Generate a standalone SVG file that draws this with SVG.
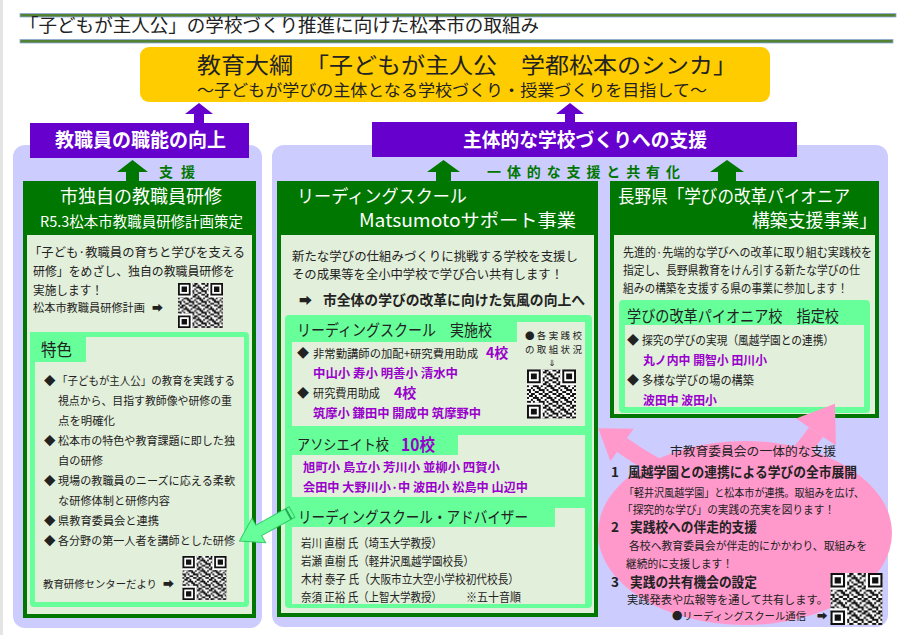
<svg xmlns="http://www.w3.org/2000/svg" xmlns:xlink="http://www.w3.org/1999/xlink" width="900" height="635" viewBox="0 0 900 635">
<style>
text { font-family: "Noto Sans CJK JP", "DejaVu Sans", sans-serif; fill: #222; }
.w { fill: #fff; }
.b { font-weight: bold; }
.p { fill: #9900cc; font-weight: bold; }
.g { fill: #007700; font-weight: bold; }
.dg { fill: #007700; }
.lg { fill: #66ff99; }
.lt { fill: #e2efda; }
.pu { fill: #6600cc; }
.lav { fill: #ccccff; }
.pk { fill: #ff99cc; }
</style>
<defs>
<pattern id="qrn" width="7" height="6" patternUnits="userSpaceOnUse">
<path fill="#111" d="M0 0h1v1h-1z M2 0h2v1h-2z M6 0h1v1h-1z M1 1h2v1h-2z M4 1h1v1h-1z M0 2h1v1h-1z M3 2h3v1h-3z M2 3h1v1h-1z M5 3h2v1h-2z M0 4h2v1h-2z M3 4h1v1h-1z M6 4h1v1h-1z M1 5h1v1h-1z M4 5h2v1h-2z"/>
</pattern>
<symbol id="qr" viewBox="0 0 25 25">
<rect width="25" height="25" fill="#fff"/>
<rect width="25" height="25" fill="url(#qrn)"/>
<rect x="0" y="0" width="8" height="8" fill="#fff"/>
<rect x="17" y="0" width="8" height="8" fill="#fff"/>
<rect x="0" y="17" width="8" height="8" fill="#fff"/>
<path fill="#111" fill-rule="evenodd" d="M0 0h7v7h-7z M1 1v5h5v-5z M2 2h3v3h-3z M18 0h7v7h-7z M19 1v5h5v-5z M20 2h3v3h-3z M0 18h7v7h-7z M1 19v5h5v-5z M2 20h3v3h-3z"/>
</symbol>
</defs>

<rect width="900" height="635" fill="#fff"/>
<rect x="0" y="0" width="3" height="635" fill="#e4e4e4"/>

<g id="title">
<rect x="20" y="13.5" width="876" height="3.5" fill="#548235" stroke="#8eaadb" stroke-width="0.8"/>
<text x="20" y="32" font-size="18" textLength="519" lengthAdjust="spacingAndGlyphs">「子どもが主人公」の学校づくり推進に向けた松本市の取組み</text>
<rect x="20" y="39.5" width="873" height="3.5" fill="#548235" stroke="#8eaadb" stroke-width="0.8"/>
</g>

<g id="panels">
<rect class="lav" x="13" y="145" width="249" height="483" rx="12"/>
<rect class="lav" x="272" y="145" width="616" height="482" rx="12"/>
</g>

<g id="goal">
<rect x="140" y="47" width="630" height="55" rx="9" fill="#ffcc00"/>
<text x="197" y="73" font-size="22" textLength="540" lengthAdjust="spacingAndGlyphs">教育大綱　「子どもが主人公　学都松本のシンカ」</text>
<text x="197" y="96" font-size="16" textLength="510" lengthAdjust="spacingAndGlyphs">～子どもが学びの主体となる学校づくり・授業づくりを目指して～</text>
</g>

<g id="aim-left">
<rect class="pu" x="30" y="123" width="219" height="35"/>
<text class="w b" x="55" y="147" font-size="19" textLength="171" lengthAdjust="spacingAndGlyphs">教職員の職能の向上</text>
</g>

<g id="aim-right">
<rect class="pu" x="372" y="122" width="425" height="35"/>
<text class="w b" x="463" y="147" font-size="19" textLength="244" lengthAdjust="spacingAndGlyphs">主体的な学校づくりへの支援</text>
</g>

<g id="box-left">
<rect class="dg" x="23" y="181" width="233" height="437"/>
<rect class="lt" x="27" y="235" width="225" height="379"/>
<text class="w" x="60" y="203" font-size="18" textLength="162" lengthAdjust="spacingAndGlyphs">市独自の教職員研修</text>
<text class="w" x="40" y="227" font-size="14.5" textLength="203" lengthAdjust="spacingAndGlyphs">R5.3松本市教職員研修計画策定</text>
<text x="29" y="257" font-size="12.5" textLength="216" lengthAdjust="spacingAndGlyphs">「子ども·教職員の育ちと学びを支える</text>
<text x="33" y="276" font-size="12.5" textLength="202" lengthAdjust="spacingAndGlyphs">研修」をめざし、独自の教職員研修を</text>
<text x="33" y="295" font-size="12.5" textLength="70" lengthAdjust="spacingAndGlyphs">実施します！</text>
<text x="33" y="312" font-size="11" textLength="112" lengthAdjust="spacingAndGlyphs">松本市教職員研修計画</text>
<text x="152" y="312" font-size="11">➡</text>
<use xlink:href="#qr" href="#qr" x="178" y="283" width="45" height="45"/>
<rect class="lg" x="30" y="332" width="219" height="275" rx="4"/>
<rect class="lt" x="35" y="337" width="209" height="265"/>
<rect class="lg" x="30" y="332" width="56" height="30"/>
<text x="41" y="356" font-size="16.5" textLength="31" lengthAdjust="spacingAndGlyphs">特色</text>
<g font-size="11.5">
<text x="44" y="384.5">◆</text>
<text x="57" y="384.5" textLength="178" lengthAdjust="spacingAndGlyphs">「子どもが主人公」の教育を実践する</text>
<text x="58" y="404.5" textLength="174" lengthAdjust="spacingAndGlyphs">視点から、目指す教師像や研修の重</text>
<text x="58" y="424.5" textLength="57" lengthAdjust="spacingAndGlyphs">点を明確化</text>
<text x="44" y="444.5">◆</text>
<text x="58" y="444.5" textLength="177" lengthAdjust="spacingAndGlyphs">松本市の特色や教育課題に即した独</text>
<text x="58" y="464.5" textLength="45" lengthAdjust="spacingAndGlyphs">自の研修</text>
<text x="44" y="484.5">◆</text>
<text x="58" y="484.5" textLength="177" lengthAdjust="spacingAndGlyphs">現場の教職員のニーズに応える柔軟</text>
<text x="58" y="504.5" textLength="112" lengthAdjust="spacingAndGlyphs">な研修体制と研修内容</text>
<text x="44" y="524.5">◆</text>
<text x="58" y="524.5" textLength="101" lengthAdjust="spacingAndGlyphs">県教育委員会と連携</text>
<text x="44" y="544.5">◆</text>
<text x="58" y="544.5" textLength="177" lengthAdjust="spacingAndGlyphs">各分野の第一人者を講師とした研修</text>
</g>
<text x="43" y="588" font-size="10.6" textLength="114" lengthAdjust="spacingAndGlyphs">教育研修センターだより</text>
<text x="163" y="588" font-size="11">➡</text>
<use xlink:href="#qr" href="#qr" x="182" y="556" width="45" height="44"/>
</g>

<g id="box-middle">
<rect class="dg" x="277" y="181" width="321" height="436"/>
<rect class="lt" x="281" y="235" width="313" height="378"/>
<text class="w" x="297" y="203" font-size="18" textLength="170" lengthAdjust="spacingAndGlyphs">リーディングスクール</text>
<text class="w" x="359" y="227" font-size="18" textLength="217" lengthAdjust="spacingAndGlyphs">Matsumotoサポート事業</text>
<text x="292" y="261" font-size="12.5" textLength="286" lengthAdjust="spacingAndGlyphs">新たな学びの仕組みづくりに挑戦する学校を支援し</text>
<text x="292" y="279" font-size="12.5" textLength="271" lengthAdjust="spacingAndGlyphs">その成果等を全小中学校で学び合い共有します！</text>
<text x="299" y="305" font-size="13">➡</text>
<text class="b" x="323" y="305" font-size="14" textLength="262" lengthAdjust="spacingAndGlyphs">市全体の学びの改革に向けた気風の向上へ</text>
<rect class="lg" x="285" y="315" width="307" height="293" rx="4"/>
<rect class="lt" x="292" y="342" width="293" height="84"/>
<rect class="lt" x="517" y="322" width="68" height="104"/>
<text x="297" y="336" font-size="16" textLength="195" lengthAdjust="spacingAndGlyphs">リーディングスクール　実施校</text>
<text x="525" y="338.5" font-size="9.5" textLength="57" lengthAdjust="spacing">●各実践校</text>
<text x="525" y="352.5" font-size="9.5" textLength="57" lengthAdjust="spacing">の取組状況</text>
<text x="552" y="366" font-size="8.5" text-anchor="middle">⇓</text>
<use xlink:href="#qr" href="#qr" x="527" y="369" width="49" height="50"/>
<text x="297" y="358" font-size="12">◆</text>
<text x="313" y="358" font-size="11.5" textLength="165" lengthAdjust="spacingAndGlyphs">非常勤講師の加配+研究費用助成</text>
<text class="p" x="486" y="358" font-size="14" font-weight="normal">4校</text>
<text class="p" x="313" y="378" font-size="12" textLength="145" lengthAdjust="spacingAndGlyphs">中山小 寿小 明善小 清水中</text>
<text x="297" y="398" font-size="12">◆</text>
<text x="313" y="398" font-size="12" textLength="67" lengthAdjust="spacingAndGlyphs">研究費用助成</text>
<text class="p" x="394" y="398" font-size="14">4校</text>
<text class="p" x="313" y="418" font-size="12" textLength="168" lengthAdjust="spacingAndGlyphs">筑摩小 鎌田中 開成中 筑摩野中</text>
<rect class="lt" x="292" y="435" width="293" height="62"/>
<rect class="lg" x="285" y="431" width="173" height="24"/>
<text x="297" y="450" font-size="14.5" textLength="92" lengthAdjust="spacingAndGlyphs">アソシエイト校</text>
<text class="p" x="401" y="451" font-size="17" textLength="34" lengthAdjust="spacingAndGlyphs">10校</text>
<text class="p" x="303" y="472" font-size="12" textLength="197" lengthAdjust="spacingAndGlyphs">旭町小 島立小 芳川小 並柳小 四賀小</text>
<text class="p" x="303" y="492" font-size="12" textLength="225" lengthAdjust="spacingAndGlyphs">会田中 大野川小·中 波田小 松島中 山辺中</text>
<rect class="lt" x="292" y="508" width="293" height="96"/>
<rect class="lg" x="285" y="501" width="270" height="26"/>
<text x="298" y="523" font-size="16" textLength="230" lengthAdjust="spacingAndGlyphs">リーディングスクール・アドバイザー</text>
<g font-size="12">
<text x="301" y="548" textLength="141" lengthAdjust="spacingAndGlyphs">岩川 直樹 氏（埼玉大学教授）</text>
<text x="301" y="566" textLength="173" lengthAdjust="spacingAndGlyphs">岩瀬 直樹 氏（軽井沢風越学園校長）</text>
<text x="301" y="584" textLength="218" lengthAdjust="spacingAndGlyphs">木村 泰子 氏（大阪市立大空小学校初代校長）</text>
<text x="301" y="602" textLength="141" lengthAdjust="spacingAndGlyphs">奈須 正裕 氏（上智大学教授）</text>
<text x="466" y="602" textLength="55" lengthAdjust="spacingAndGlyphs">※五十音順</text>
</g>
</g>

<g id="box-right">
<rect class="dg" x="610" y="181" width="269" height="237"/>
<rect class="lt" x="614" y="235" width="261" height="179"/>
<text class="w" x="618" y="203" font-size="18" textLength="232" lengthAdjust="spacingAndGlyphs">長野県「学びの改革パイオニア</text>
<text class="w" x="752" y="227" font-size="18" textLength="125" lengthAdjust="spacingAndGlyphs">構築支援事業」</text>
<g font-size="12">
<text x="623" y="257" textLength="249" lengthAdjust="spacingAndGlyphs">先進的·先端的な学びへの改革に取り組む実践校を</text>
<text x="623" y="275" textLength="237" lengthAdjust="spacingAndGlyphs">指定し、長野県教育をけん引する新たな学びの仕</text>
<text x="623" y="293" textLength="225" lengthAdjust="spacingAndGlyphs">組みの構築を支援する県の事業に参加します！</text>
</g>
<rect class="lg" x="619" y="300" width="251" height="113" rx="4"/>
<rect class="lt" x="625" y="325" width="239" height="82"/>
<text x="627" y="322" font-size="16" textLength="212" lengthAdjust="spacingAndGlyphs">学びの改革パイオニア校　指定校</text>
<g font-size="12">
<text x="627" y="345">◆</text>
<text x="642" y="345" textLength="192" lengthAdjust="spacingAndGlyphs">探究の学びの実現（風越学園との連携）</text>
<text class="p" x="643" y="365" textLength="124" lengthAdjust="spacingAndGlyphs">丸ノ内中 開智小 田川小</text>
<text x="627" y="385">◆</text>
<text x="642" y="385" textLength="112" lengthAdjust="spacingAndGlyphs">多様な学びの場の構築</text>
<text class="p" x="643" y="405" textLength="74" lengthAdjust="spacingAndGlyphs">波田中 波田小</text>
</g>
</g>

<g id="connectors">
<polygon class="pu" points="199,103 213,114 204,114 204,124 194,124 194,114 185,114"/>
<polygon class="pu" points="570,103 584,114 575,114 575,123 565,123 565,114 556,114"/>
<polygon class="dg" points="132.5,160 148,172 139,172 139,182 126,182 126,172 117,172"/>
<text class="g" x="159" y="177" font-size="14" textLength="36" lengthAdjust="spacing">支援</text>
<polygon class="dg" points="443.5,160 460,172 451,172 451,182 436,182 436,172 427,172"/>
<text class="g" x="487" y="177" font-size="14" textLength="193" lengthAdjust="spacing">一体的な支援と共有化</text>
<polygon class="dg" points="727,160 744,172 736,172 736,182 718,182 718,172 710,172"/>
<g transform="translate(292,512) rotate(151)">
<polygon points="0,-6 38,-6 38,-14 60,0 38,14 38,6 0,6" fill="#66ff99" stroke="#33cc66" stroke-width="1"/>
<line x1="4" y1="-6" x2="4" y2="6" stroke="#22aa55" stroke-width="2"/>
</g>
<path d="M622 445 Q747 534 816 432" fill="none" stroke="#ff99cc" stroke-width="17"/>
<polygon class="pk" points="598.3,428.2 633.6,428.7 610.4,461.3"/>
<polygon class="pk" points="835,403.8 835.9,445.4 796.1,418.6"/>
</g>

<g id="support">
<ellipse class="pk" cx="745" cy="533" rx="147" ry="92"/>
<text x="670" y="456" font-size="12.5" textLength="166" lengthAdjust="spacingAndGlyphs">市教育委員会の一体的な支援</text>
<text class="b" x="611" y="477" font-size="13.5">1</text>
<text class="b" x="628" y="477" font-size="13.5" textLength="229" lengthAdjust="spacingAndGlyphs">風越学園との連携による学びの全市展開</text>
<text x="624" y="497" font-size="11.5" textLength="240" lengthAdjust="spacingAndGlyphs">「軽井沢風越学園」と松本市が連携。取組みを広げ、</text>
<text x="622" y="514" font-size="11.5" textLength="213" lengthAdjust="spacingAndGlyphs">「探究的な学び」の実践の充実を図ります！</text>
<text class="b" x="611" y="532" font-size="13.5">2</text>
<text class="b" x="630" y="532" font-size="13.5" textLength="127" lengthAdjust="spacingAndGlyphs">実践校への伴走的支援</text>
<text x="629" y="550" font-size="11.5" textLength="238" lengthAdjust="spacingAndGlyphs">各校へ教育委員会が伴走的にかかわり、取組みを</text>
<text x="626" y="568" font-size="11.5" textLength="107" lengthAdjust="spacingAndGlyphs">継続的に支援します！</text>
<text class="b" x="611" y="587" font-size="13.5">3</text>
<text class="b" x="630" y="587" font-size="13.5" textLength="127" lengthAdjust="spacingAndGlyphs">実践の共有機会の設定</text>
<text x="627" y="604" font-size="11.5" textLength="201" lengthAdjust="spacingAndGlyphs">実践発表や広報等を通して共有します。</text>
<text x="672" y="620" font-size="10.3" textLength="134" lengthAdjust="spacingAndGlyphs">●リーディングスクール通信</text>
<text x="817" y="620" font-size="10.5">➡</text>
<use xlink:href="#qr" href="#qr" x="830" y="573" width="53" height="52"/>
</g>
</svg>
